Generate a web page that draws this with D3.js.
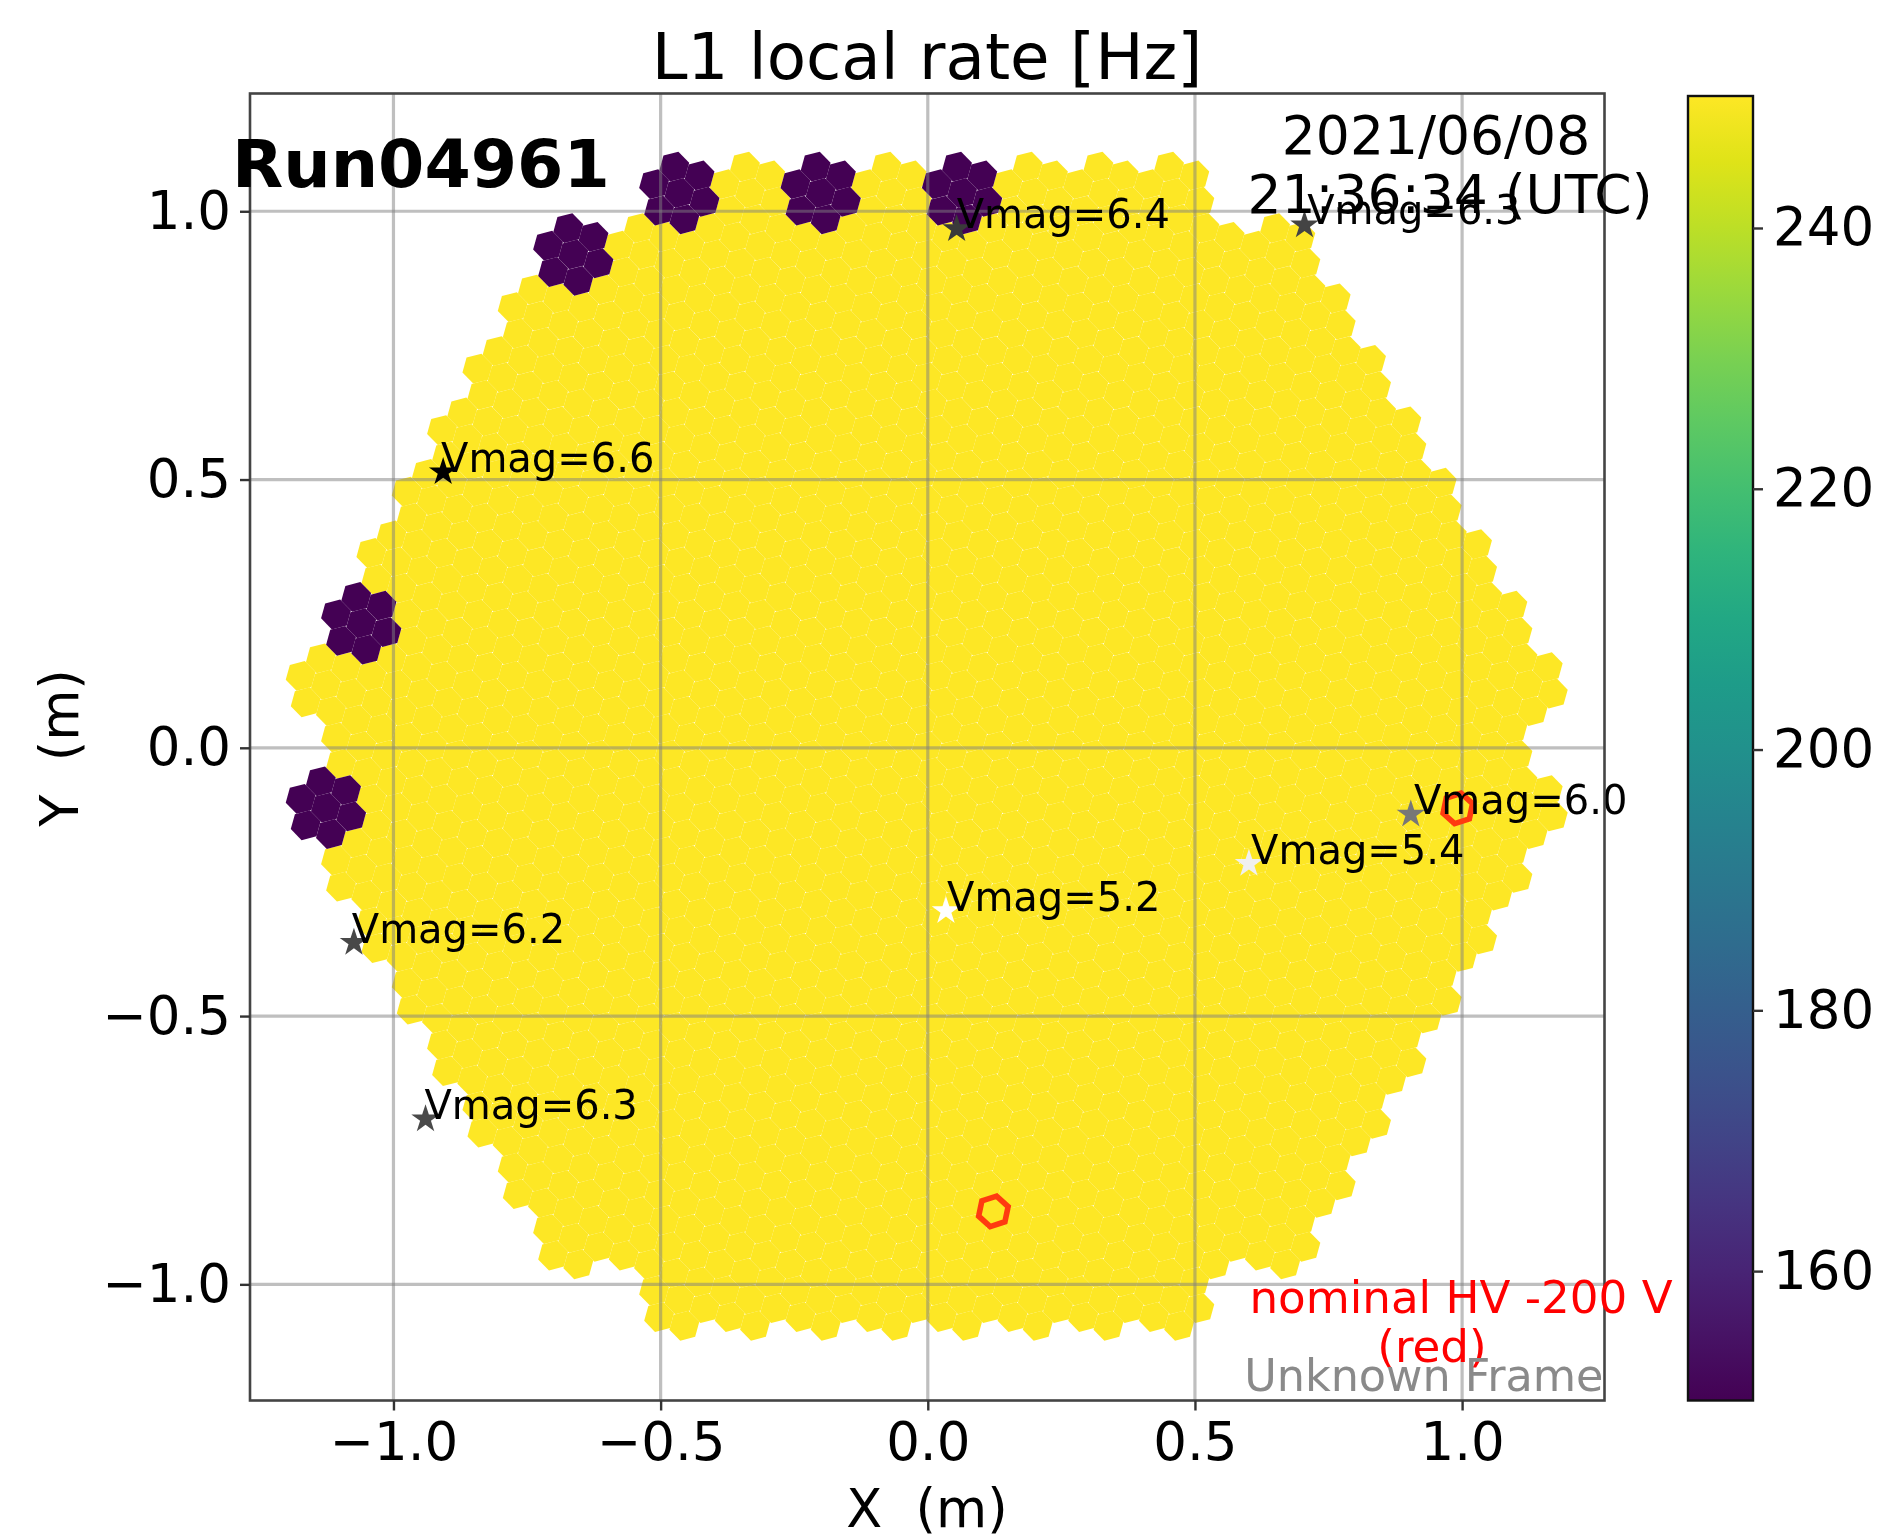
<!DOCTYPE html>
<html><head><meta charset="utf-8">
<script src="https://cdn.jsdelivr.net/npm/d3@7/dist/d3.min.js"></script>
<style>
html,body{margin:0;padding:0;background:#fff;overflow:hidden}
svg{display:block;filter:blur(0.7px)}
text{font-family:"DejaVu Sans",sans-serif;fill:#000}
</style></head><body><svg id="c" width="1893" height="1538"></svg>
<script>
// ---- data ----
const moduleRowIndex  = [9,8,7,6,5,4,3,2,1,0,-1,-2,-3,-4,-5,-6,-7,-8,-9];
const moduleRowCounts = [8,11,12,13,14,15,16,17,18,17,18,17,16,15,14,13,12,11,8];
const lowModuleCols = [-3.5,-1.5,0.5,-5,-8,-8.5];
const lowModuleRows = [9,9,9,8,2,-1];
const lowRate = 150, highRate = 250;
const redPixelX = [0.1228,0.992];
const redPixelY = [-0.8640,-0.1130];
const starX = [0.054,0.705,-0.907,-1.074,-0.940,0.904,0.601,0.034];
const starY = [0.967,0.974,0.514,-0.363,-0.692,-0.124,-0.216,-0.304];
const labelX = [0.054,0.710,-0.911,-1.078,-0.942,0.910,0.605,0.036];
const labelY = [0.969,0.976,0.514,-0.363,-0.692,-0.124,-0.216,-0.304];
const starMag = [6.4,6.3,6.6,6.2,6.3,6.0,5.4,5.2];
const starColor = ["#3a3a3a","#444444","#000000","#484848","#4a4a4a","#777777","#f0f0f0","#ffffff"];
const xTicks = [-1,-0.5,0,0.5,1];
const yTicks = [-1,-0.5,0,0.5,1];
const cbTicks = [160,180,200,220,240];

// ---- layout ----
const L=250,R=1604.5,T=93.5,B=1400.5, CL=1688,CR=1753,CT=96,CB=1400.5;
const svg=d3.select("#c");
const x=d3.scaleLinear().domain([-1.2685,1.2665]).range([L,R]);
const y=d3.scaleLinear().domain([-1.2165,1.2195]).range([B,T]);
const rate=d3.scaleSequential(d3.interpolateViridis).domain([lowRate,highRate]).clamp(true);
const cbY=d3.scaleLinear().domain([150,250]).range([1401.5,97.6]);

// camera geometry (metres)
const pitch=0.05, modStep=pitch*Math.sqrt(7), rowStep=modStep*Math.sqrt(3)/2;
const camX=-0.002, camY=0.003;
const latticeDeg=-19.107, hexVertexDeg=14.5, hexR=0.02885;
const rad=Math.PI/180;
const line=d3.line().x(d=>x(d[0])).y(d=>y(d[1])).curve(d3.curveLinearClosed);
function hex(cx,cy,r,deg){return line(d3.range(6).map(k=>{const a=(deg+60*k)*rad;return [cx+r*Math.cos(a),cy+r*Math.sin(a)];}));}
function flower(col,row){
  const mx=col*modStep+camX,my=row*rowStep+camY;
  const pts=[[mx,my]];
  for(let k=0;k<6;k++){const a=(latticeDeg+60*k)*rad;pts.push([mx+pitch*Math.cos(a),my+pitch*Math.sin(a)]);}
  return pts;
}
const isLow=(c,r)=>lowModuleCols.some((v,i)=>v===c&&lowModuleRows[i]===r);
const pixels=[];
moduleRowIndex.forEach((r,i)=>{
  const n=moduleRowCounts[i];
  d3.range(n).forEach(j=>{
    const c=j-(n-1)/2, v=isLow(c,r)?lowRate:highRate;
    flower(c,r).forEach(p=>pixels.push({x:p[0],y:p[1],v}));
  });
});
pixels.sort((a,b)=>d3.descending(a.v,b.v));
svg.append("g").selectAll("path").data(pixels).join("path")
  .attr("d",d=>hex(d.x,d.y,hexR,hexVertexDeg)).attr("fill",d=>rate(d.v));

// grid
const g=svg.append("g").attr("stroke","#808080").attr("stroke-opacity",0.5).attr("stroke-width",3.2);
g.selectAll(".gx").data(xTicks).join("line").attr("x1",d=>x(d)).attr("x2",d=>x(d)).attr("y1",T).attr("y2",B);
g.selectAll(".gy").data(yTicks).join("line").attr("y1",d=>y(d)).attr("y2",d=>y(d)).attr("x1",L).attr("x2",R);

// red pixels
svg.append("g").selectAll("path").data(redPixelX).join("path")
  .attr("d",(d,i)=>hex(d,redPixelY[i],0.029,18))
  .attr("fill","none").attr("stroke","#ff3a10").attr("stroke-width",5.6);

// stars
const star=d3.symbol().type(d3.symbolStar).size(250);
svg.append("g").selectAll("path").data(starX).join("path")
  .attr("d",star).attr("transform",(d,i)=>`translate(${x(d)},${y(starY[i])})`)
  .attr("fill",(d,i)=>starColor[i]);
svg.append("g").selectAll("text").data(labelX).join("text")
  .attr("x",d=>x(d)).attr("y",(d,i)=>y(labelY[i]))
  .attr("font-size",40).text((d,i)=>"Vmag="+starMag[i].toFixed(1));

// frame & axes
svg.append("rect").attr("x",L).attr("y",T).attr("width",R-L).attr("height",B-T)
  .attr("fill","none").attr("stroke","#444").attr("stroke-width",2.6);
function styleAxis(a){a.select(".domain").remove();a.selectAll("line").attr("stroke","#333").attr("stroke-width",2.4);a.selectAll("text").attr("font-size",53).attr("fill","#000");}
svg.append("g").attr("transform",`translate(0,${B})`)
  .call(d3.axisBottom(x).tickValues(xTicks).tickSize(10).tickPadding(12).tickFormat(d3.format(".1f"))).call(styleAxis);
svg.append("g").attr("transform",`translate(${L},0)`)
  .call(d3.axisLeft(y).tickValues(yTicks).tickSize(10).tickPadding(9).tickFormat(d3.format(".1f"))).call(styleAxis);

// colour bar
const defs=svg.append("defs");
const grad=defs.append("linearGradient").attr("id","vir").attr("x1",0).attr("x2",0).attr("y1",1).attr("y2",0);
d3.range(0,1.0001,0.05).forEach(t=>grad.append("stop").attr("offset",t).attr("stop-color",d3.interpolateViridis(t)));
svg.append("rect").attr("x",CL).attr("y",CT).attr("width",CR-CL).attr("height",CB-CT)
  .attr("fill","url(#vir)").attr("stroke","#111").attr("stroke-width",2.4);
svg.append("g").attr("transform",`translate(${CR},0)`)
  .call(d3.axisRight(cbY).tickValues(cbTicks).tickSize(10).tickPadding(10).tickFormat(d3.format("d"))).call(styleAxis);

// text
const t=(s,px,py,size,anchor,o={})=>{const e=svg.append("text").attr("x",px).attr("y",py).attr("font-size",size).attr("text-anchor",anchor).text(s);
  if(o.fill)e.style("fill",o.fill);if(o.weight)e.attr("font-weight",o.weight);if(o.rot)e.attr("transform",`rotate(${o.rot} ${px} ${py})`);return e;};
t("L1 local rate [Hz]",927,79,64.3,"middle");
t("X  (m)",927,1527,52.5,"middle").style("white-space","pre");
t("Y  (m)",78,748,52.5,"middle",{rot:-90}).style("white-space","pre");
t("Run04961",232,187,66.6,"start",{weight:"bold"});
t("2021/06/08",1436,154,53.5,"middle");
t("21:36:34 (UTC)",1450,213,53.5,"middle");
t("nominal HV -200 V",1461,1313,45.2,"middle",{fill:"#ff0000"});
t("(red)",1432,1362,45.2,"middle",{fill:"#ff0000"});
t("Unknown Frame",1603.5,1391,44.5,"end",{fill:"#8a8a8a"});
</script></body></html>
